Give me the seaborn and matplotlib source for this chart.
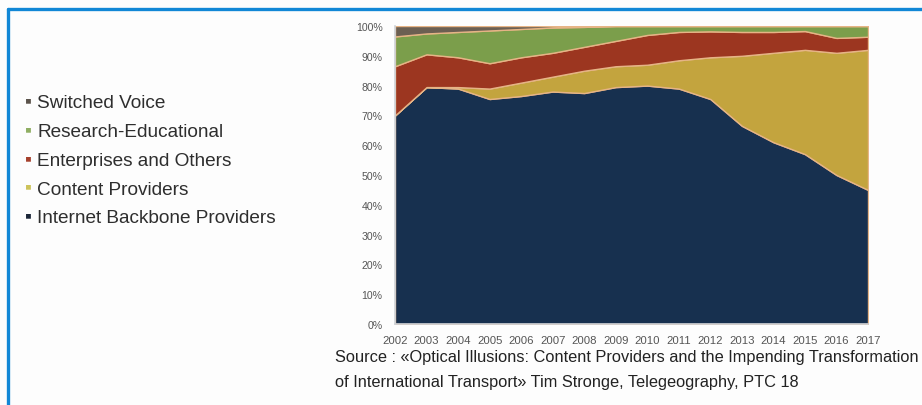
import numpy as np
import matplotlib
matplotlib.use("Agg")
import matplotlib.pyplot as plt
import seaborn as sns

# shares of international bandwidth used, percent
years = list(range(2002, 2018))
backbone = [70, 79.5, 79, 75.5, 76.5, 78, 77.5, 79.5, 80, 79, 75.5, 66.5, 61, 57, 50, 45]
content = [0, 0, 0.5, 3.5, 4.5, 5, 7.5, 7, 7, 9.5, 14, 23.5, 30, 35, 41, 47]
enterprises = [16.5, 11, 10, 8.5, 8.5, 8, 8, 8.5, 10, 9.5, 8.7, 8, 7, 6.3, 5, 4.4]
research = [10, 7, 8.5, 11, 9.5, 8.5, 6.7, 5, 3, 2, 1.8, 2, 2, 1.7, 4, 3.6]
switched = [3.5, 2.5, 2, 1.5, 1, 0.5, 0.3, 0, 0, 0, 0, 0, 0, 0, 0, 0]

legend_labels = ["Switched Voice", "Research-Educational", "Enterprises and Others",
                 "Content Providers", "Internet Backbone Providers"]
legend_colors = ["#5b534b", "#8fae62", "#a5402c", "#cdc35a", "#1b2638"]
area_colors = ["#17304f", "#c3a43e", "#9c3620", "#7b9e4b", "#6b5f52"]

sns.set_style("white")
plt.rcParams["font.family"] = ["Liberation Sans", "DejaVu Sans"]

fig = plt.figure(figsize=(9.22, 4.06), dpi=100)
fig.patch.set_facecolor("#fdfdfd")
ax = fig.add_axes([395 / 922, (406 - 325) / 406, 473 / 922, 298 / 406])

ax.stackplot(years, backbone, content, enterprises, research, switched,
             colors=area_colors, edgecolor="#e6b486", linewidth=1.0)
ax.set_xlim(2002, 2017)
ax.set_ylim(0, 100)
ax.set_xticks(years)
ax.set_xticklabels([str(y) for y in years])
ax.set_yticks(np.arange(0, 101, 10))
ax.set_yticklabels([f"{v}%" for v in range(0, 101, 10)])
ax.tick_params(axis="y", length=0, labelsize=7.6, labelcolor="#555555", pad=9)
ax.tick_params(axis="x", length=0, labelsize=8.2, labelcolor="#555555", pad=8)
sns.despine(ax=ax, top=True, right=True)
for side in ("left", "bottom"):
    ax.spines[side].set_color("#cfd3d8")
    ax.spines[side].set_linewidth(1.2)

# legend on the left, drawn as text rows
for i, (lab, col) in enumerate(zip(legend_labels, legend_colors)):
    y = 406 - (104 + i * 28.7)
    fig.text(25 / 922, (y + 2) / 406, "\u25aa", color=col, fontsize=14, va="center", ha="left")
    fig.text(37 / 922, y / 406, lab, color="#2e2e2e", fontsize=13.7, va="center", ha="left")

# source note
fig.text(335 / 922, (406 - 358) / 406,
         "Source : \u00abOptical Illusions: Content Providers and the Impending Transformation",
         fontsize=11.8, color="#222222", va="center", ha="left")
fig.text(335 / 922, (406 - 383) / 406,
         "of International Transport\u00bb Tim Stronge, Telegeography, PTC 18",
         fontsize=11.8, color="#222222", va="center", ha="left")

# blue frame (left and top edges)
fig.add_artist(plt.Line2D([8 / 922, 8 / 922], [0, (406 - 10) / 406], color="#1187d6", lw=2.4))
fig.add_artist(plt.Line2D([8 / 922, 1], [(406 - 10) / 406, (406 - 10) / 406], color="#1187d6", lw=2.4))

fig.savefig("out.png", dpi=100, facecolor=fig.get_facecolor())
